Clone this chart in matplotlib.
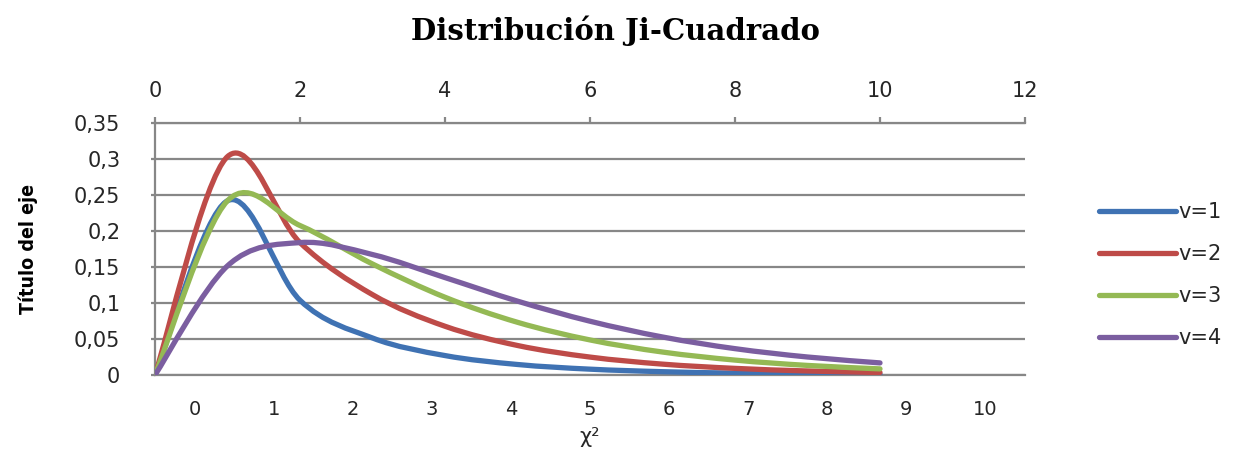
import matplotlib
matplotlib.use('Agg')
import matplotlib.pyplot as plt
from matplotlib.path import Path
from matplotlib.patches import PathPatch
from matplotlib.lines import Line2D

# Data (x = 0..10)
X_VALUES = [0, 1, 2, 3, 4, 5, 6, 7, 8, 9, 10]
V1 = [0, 0.2420, 0.1038, 0.0514, 0.0270, 0.0146, 0.0081, 0.0046, 0.0026, 0.0015, 0.0009]
V2 = [0, 0.3033, 0.1839, 0.1116, 0.0677, 0.0410, 0.0249, 0.0151, 0.0092, 0.0056, 0.0034]
V3 = [0, 0.2420, 0.2076, 0.1542, 0.1080, 0.0732, 0.0487, 0.0319, 0.0207, 0.0133, 0.0085]
V4 = [0, 0.1516, 0.1839, 0.1673, 0.1353, 0.1026, 0.0747, 0.0528, 0.0366, 0.0250, 0.0168]
SERIES = [V1, V2, V3, V4]
LABELS = ['v=1', 'v=2', 'v=3', 'v=4']
COLORS = ['#3F72B3', '#BE4B48', '#94B954', '#7B5EA0']

TOP_TICKS = [0, 2, 4, 6, 8, 10, 12]
Y_TICKS = [0, 0.05, 0.1, 0.15, 0.2, 0.25, 0.3, 0.35]
Y_TICK_LABELS = ['0', '0,05', '0,1', '0,15', '0,2', '0,25', '0,3', '0,35']
BOTTOM_CATEGORIES = ['0', '1', '2', '3', '4', '5', '6', '7', '8', '9', '10']

GRID_COLOR = '#878787'
TEXT_COLOR = '#262626'


def smooth_path(xs, ys):
    # Catmull-Rom style bezier segments, like Excel's smoothed lines
    pts = list(zip(xs, ys))
    verts = [pts[0]]
    codes = [Path.MOVETO]
    n = len(pts)
    for i in range(n - 1):
        p0 = pts[max(i - 1, 0)]
        p1 = pts[i]
        p2 = pts[i + 1]
        p3 = pts[min(i + 2, n - 1)]
        c1 = (p1[0] + (p2[0] - p0[0]) / 6.0, p1[1] + (p2[1] - p0[1]) / 6.0)
        c2 = (p2[0] - (p3[0] - p1[0]) / 6.0, p2[1] - (p3[1] - p1[1]) / 6.0)
        verts += [c1, c2, p2]
        codes += [Path.CURVE4] * 3
    return Path(verts, codes)


def main():
    fig = plt.figure(figsize=(12.33, 4.55), dpi=100)
    ax = fig.add_axes([155 / 1233, 1 - 375 / 455, 870 / 1233, 252 / 455])
    # bottom category axis (twiny resets ax ticks, so create it first)
    ax2 = ax.twiny()

    ax.set_xlim(0, 12)
    ax.set_ylim(0, 0.35)

    for ys, color in zip(SERIES, COLORS):
        patch = PathPatch(smooth_path(X_VALUES, ys), facecolor='none', edgecolor=color,
                          lw=3.8, capstyle='round', joinstyle='round', zorder=3)
        ax.add_patch(patch)

    # top value axis
    ax.xaxis.tick_top()
    ax.set_xticks(TOP_TICKS)
    ax.set_xticklabels([str(t) for t in TOP_TICKS])
    ax.tick_params(axis='x', direction='out', length=4, width=1.6, color=GRID_COLOR,
                   labelsize=15, labelcolor=TEXT_COLOR, pad=12)

    ax.set_yticks(Y_TICKS)
    ax.set_yticklabels(Y_TICK_LABELS)
    ax.tick_params(axis='y', direction='out', length=3, width=1.6, color=GRID_COLOR,
                   labelsize=15, labelcolor=TEXT_COLOR, pad=22)
    ax.grid(axis='y', color=GRID_COLOR, lw=1.6)
    ax.set_axisbelow(True)

    for side in ['top', 'left', 'bottom']:
        ax.spines[side].set_color(GRID_COLOR)
        ax.spines[side].set_linewidth(1.6)
    ax.spines['right'].set_visible(False)

    ax.set_ylabel('Título del eje', fontsize=14, fontweight='bold', fontstretch='condensed',
                  family='DejaVu Sans', color='black', labelpad=26)

    ax2.set_xlim(-0.5, len(BOTTOM_CATEGORIES) - 0.5)
    ax2.xaxis.tick_bottom()
    ax2.xaxis.set_label_position('bottom')
    ax2.set_xticks(range(len(BOTTOM_CATEGORIES)))
    ax2.set_xticklabels(BOTTOM_CATEGORIES)
    ax2.tick_params(axis='x', length=0, labelsize=14, labelcolor=TEXT_COLOR, pad=18)
    for s in ax2.spines.values():
        s.set_visible(False)
    ax2.set_xlabel('χ²', fontsize=15, color=TEXT_COLOR, labelpad=6)

    fig.suptitle('Distribución Ji-Cuadrado', x=615 / 1233, y=1 - 15 / 455, va='top',
                 fontsize=21, fontweight='bold', family='DejaVu Serif')

    handles = [Line2D([0], [0], color=c, lw=3.8, solid_capstyle='round') for c in COLORS]
    fig.legend(handles, LABELS, loc='center left', bbox_to_anchor=(1080 / 1233, 1 - 275 / 455),
               frameon=False, fontsize=15, handlelength=3.7, handletextpad=0.1,
               labelspacing=1.05, labelcolor=TEXT_COLOR)

    fig.savefig('out.png', dpi=100)


if __name__ == '__main__':
    main()
